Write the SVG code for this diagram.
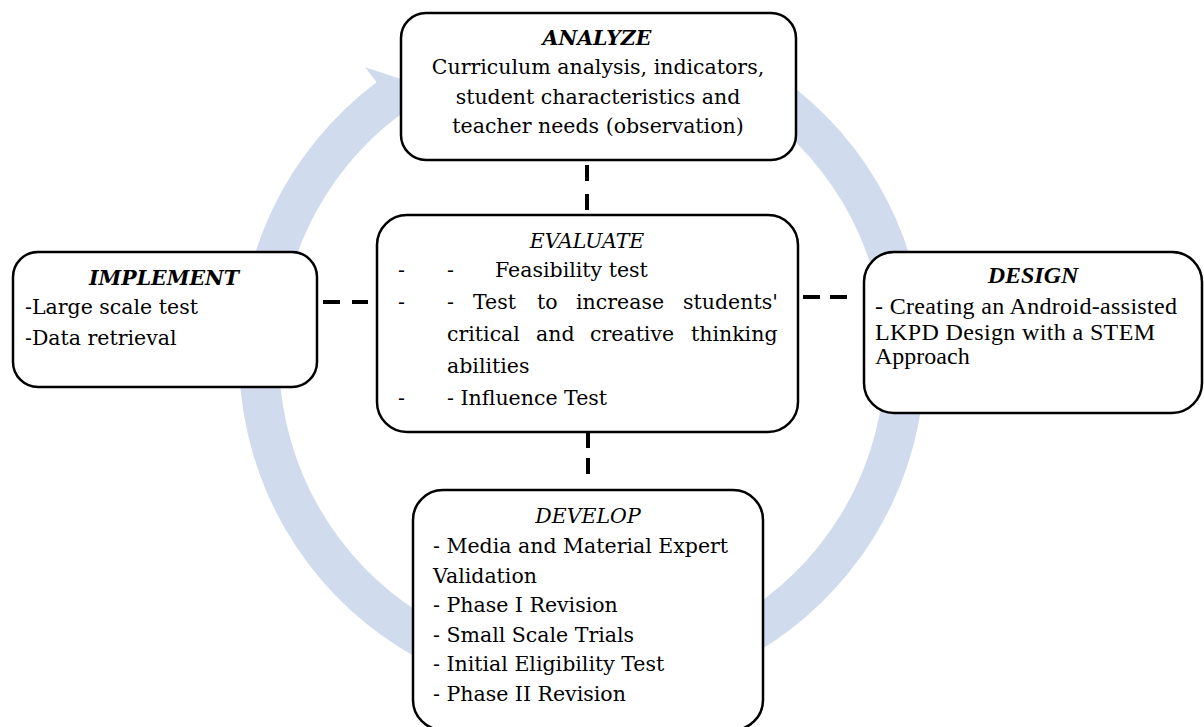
<svg xmlns="http://www.w3.org/2000/svg" width="1204" height="727" viewBox="0 0 1204 727">
<style>
.box{fill:#ffffff;stroke:#000000;stroke-width:2.5}
.ring{fill:#D0DCED;stroke:none}
.conn{stroke:#000000;stroke-width:4;fill:none}
.body{font-family:"DejaVu Serif","Liberation Serif",serif;font-size:20.5px;fill:#000000}
.ti{font-family:"DejaVu Serif","Liberation Serif",serif;font-size:20.5px;font-style:italic;fill:#000000;text-anchor:middle}
.tb{font-family:"DejaVu Serif","Liberation Serif",serif;font-size:20.5px;font-style:italic;font-weight:bold;fill:#000000;text-anchor:middle}
.tnr{font-family:"Liberation Serif","Times New Roman",serif;font-size:24px;fill:#000000}
.tnrb{font-family:"Liberation Serif","Times New Roman",serif;font-size:24px;font-style:italic;font-weight:bold;fill:#000000;text-anchor:middle}
</style>
<rect x="0" y="0" width="1204" height="727" fill="#ffffff"/>
<g id="cycle-arrow">
<path class="ring" d="M522.44,19.21 A343,343 0 1 1 376.54,82.36 L365.16,67.15 L411.8,82.5 L411.88,129.6 L400.5,114.39 A303,303 0 1 0 529.38,58.6 Z"/>
</g>
<g id="connectors">
<line class="conn" x1="587" y1="165" x2="587" y2="211" stroke-dasharray="16,13"/>
<line class="conn" x1="588" y1="432" x2="588" y2="476" stroke-dasharray="16,10"/>
<line class="conn" x1="323" y1="302" x2="368" y2="302" stroke-dasharray="17,12"/>
<line class="conn" x1="803" y1="297" x2="848" y2="297" stroke-dasharray="17,10"/>
</g>
<g id="analyze">
<rect class="box" x="401" y="13" width="395" height="147" rx="25" ry="25"/>
<text class="tb" x="597" y="45">ANALYZE</text>
<text class="body" x="598" y="74" text-anchor="middle">Curriculum analysis, indicators,</text>
<text class="body" x="598" y="104" text-anchor="middle">student characteristics and</text>
<text class="body" x="598" y="133" text-anchor="middle">teacher needs (observation)</text>
</g>
<g id="evaluate">
<rect class="box" x="377" y="215" width="421" height="217" rx="30" ry="30"/>
<text class="ti" x="587" y="248">EVALUATE</text>
<text class="body" y="277"><tspan x="398">-</tspan><tspan x="447">-</tspan><tspan x="495">Feasibility test</tspan></text>
<text class="body" y="309"><tspan x="398">-</tspan><tspan x="447">-</tspan><tspan x="473">Test</tspan><tspan x="537">to</tspan><tspan x="576">increase</tspan><tspan x="683">students'</tspan></text>
<text class="body" y="341"><tspan x="447">critical</tspan><tspan x="536">and</tspan><tspan x="590">creative</tspan><tspan x="691">thinking</tspan></text>
<text class="body" x="447" y="373">abilities</text>
<text class="body" y="405"><tspan x="398">-</tspan><tspan x="447">- Influence Test</tspan></text>
</g>
<g id="implement">
<rect class="box" x="13" y="252" width="304" height="135" rx="25" ry="25"/>
<text class="tb" x="164" y="285">IMPLEMENT</text>
<text class="body" x="25" y="314">-Large scale test</text>
<text class="body" x="25" y="345">-Data retrieval</text>
</g>
<g id="design">
<rect class="box" x="864" y="252" width="338" height="161" rx="30" ry="30"/>
<text class="tnrb" x="1033" y="283">DESIGN</text>
<text class="tnr" x="875" y="314" textLength="302">- Creating an Android-assisted</text>
<text class="tnr" x="875" y="340" textLength="280">LKPD Design with a STEM</text>
<text class="tnr" x="875" y="364">Approach</text>
</g>
<g id="develop">
<rect class="box" x="413" y="490" width="350" height="240" rx="30" ry="30"/>
<text class="ti" x="588" y="523">DEVELOP</text>
<text class="body" x="433" y="553">- Media and Material Expert</text>
<text class="body" x="433" y="583">Validation</text>
<text class="body" x="433" y="612">- Phase I Revision</text>
<text class="body" x="433" y="642">- Small Scale Trials</text>
<text class="body" x="433" y="671">- Initial Eligibility Test</text>
<text class="body" x="433" y="701">- Phase II Revision</text>
</g>
</svg>
